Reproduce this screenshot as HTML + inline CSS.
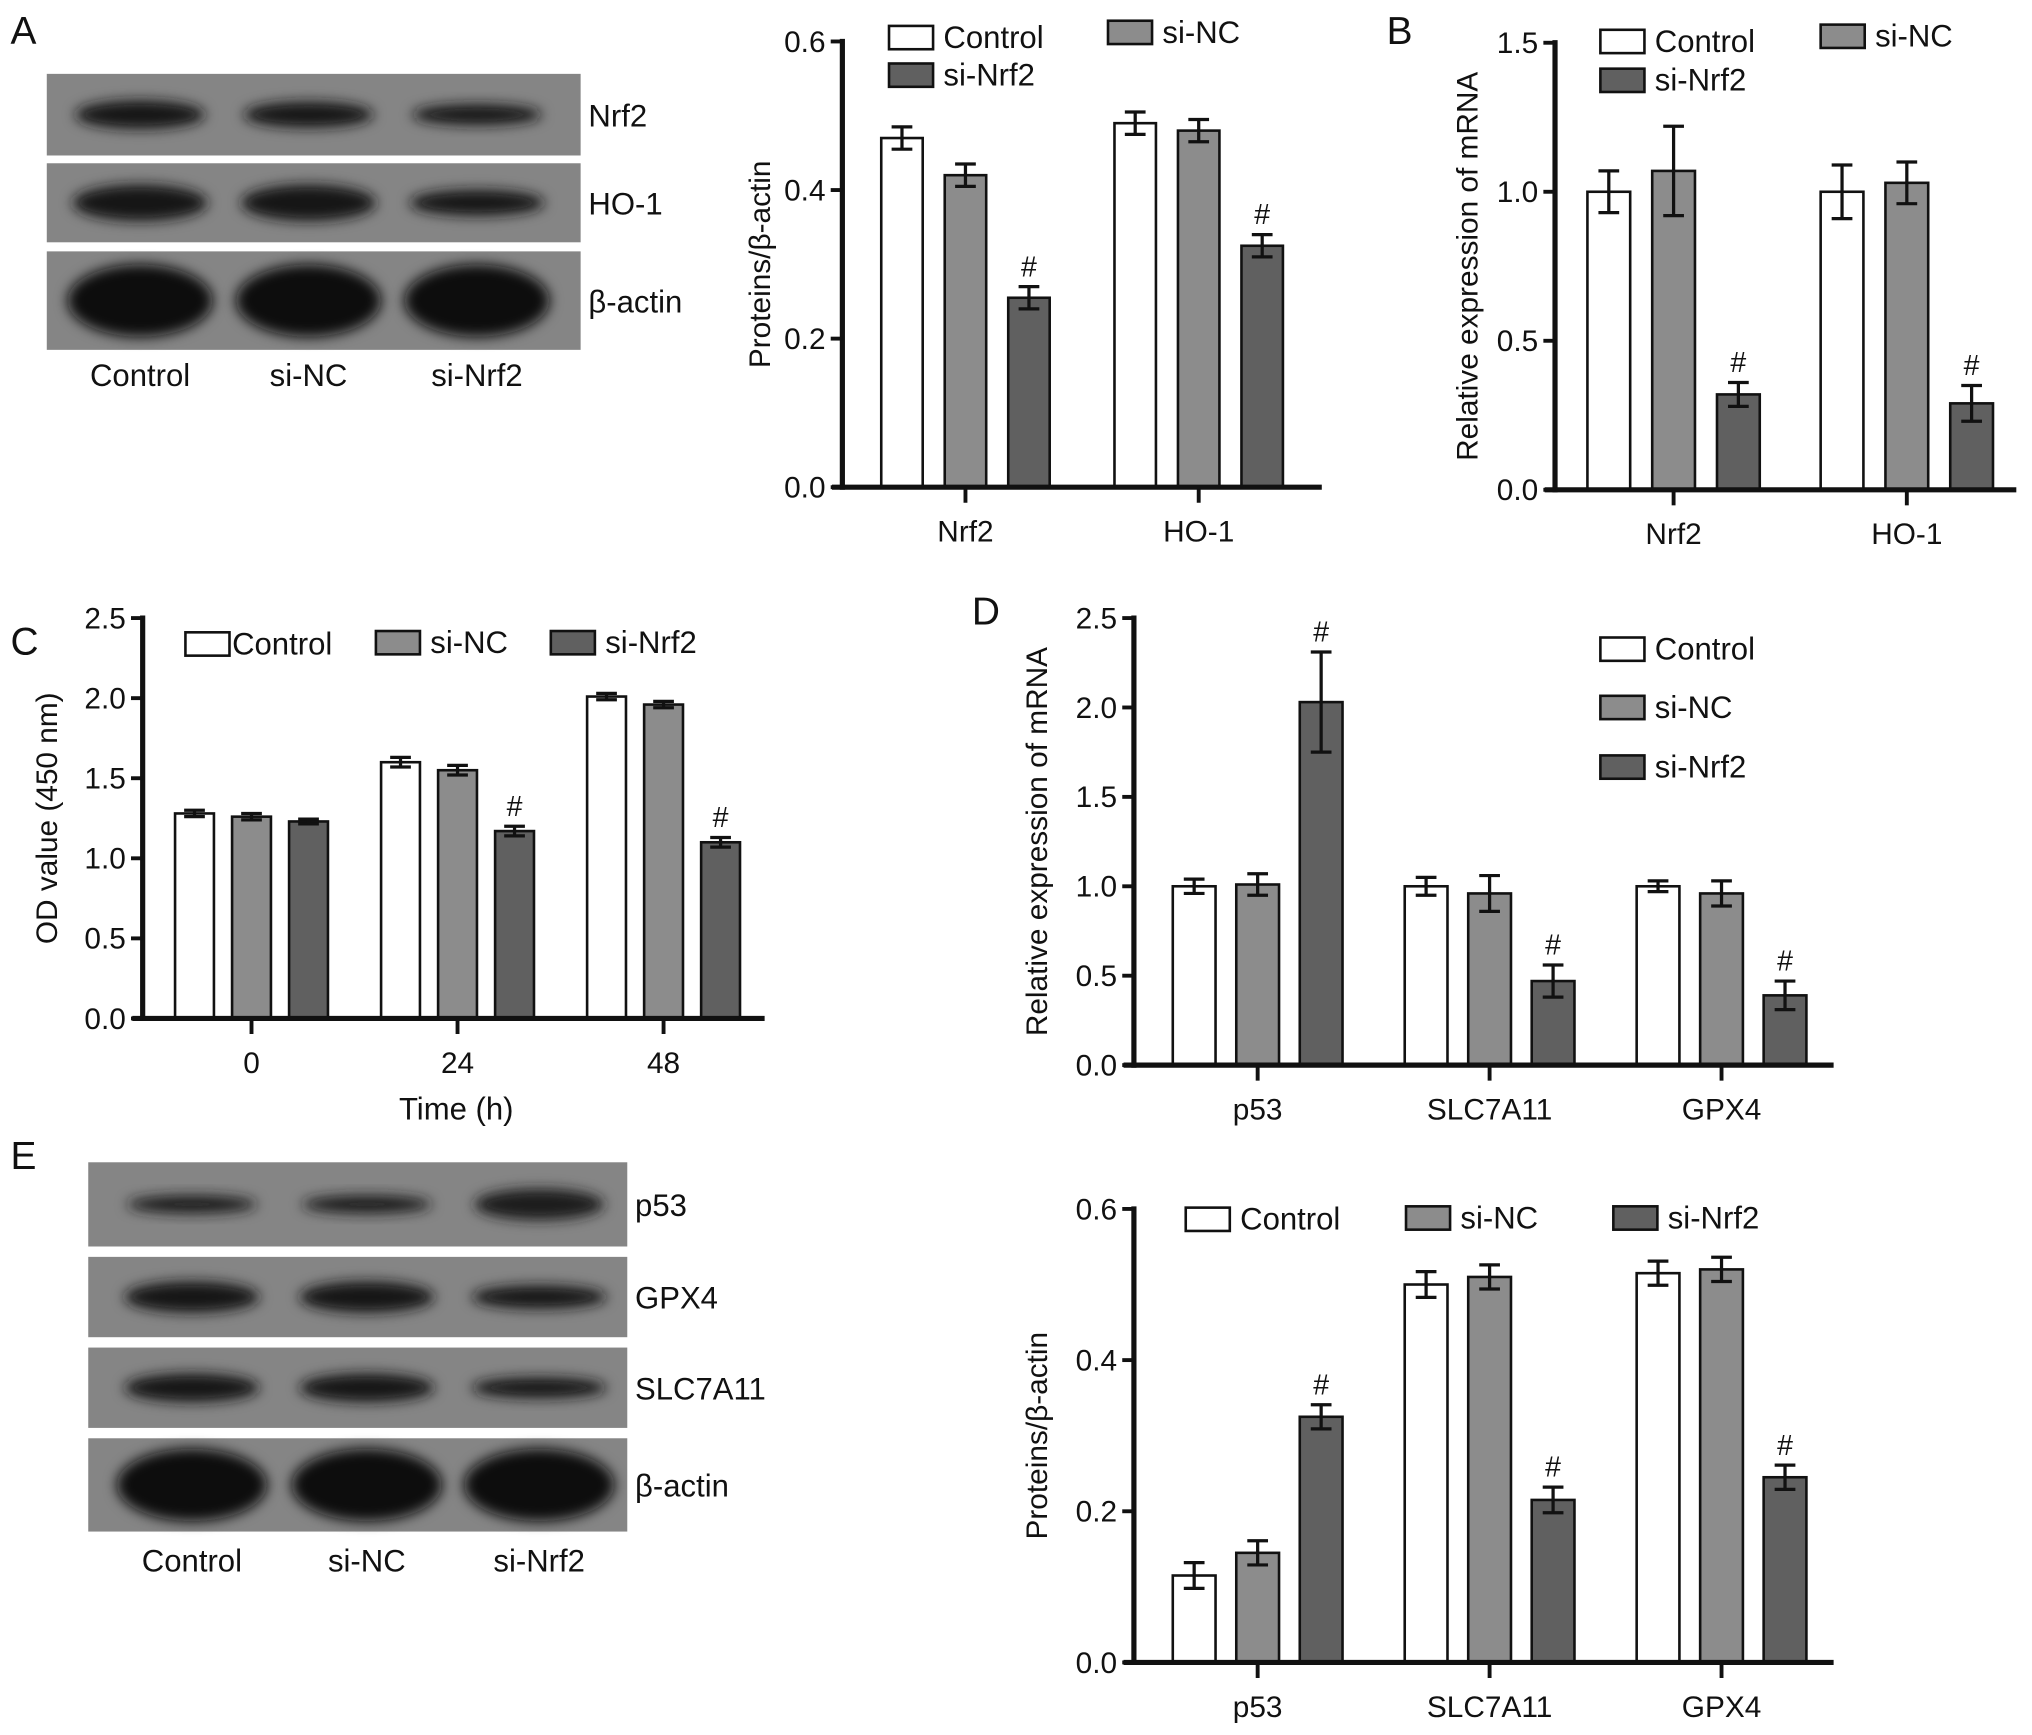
<!DOCTYPE html>
<html><head><meta charset="utf-8"><style>
html,body{margin:0;padding:0;background:#fff;}
svg{display:block;}
text{font-family:"Liberation Sans Narrow","Liberation Sans",sans-serif;fill:#111;}
</style></head><body>
<svg id="fig" width="2032" height="1735" viewBox="0 0 1568 1339">
<defs>
<filter id="blur" x="-30%" y="-60%" width="160%" height="220%"><feGaussianBlur stdDeviation="5"/></filter>
</defs>
<g id="blots"></g>
<g id="charts"></g>
</svg>
<script>
// ---------- data ----------
const groupNames = ["Control","si-NC","si-Nrf2"];
const catA = ["Nrf2","HO-1"];
const valA = [[0.47,0.42,0.255],[0.49,0.48,0.325]];
const errA = [[0.015,0.015,0.015],[0.015,0.015,0.015]];
const sigA = [[0,0,1],[0,0,1]];
const ticksA = [0.0,0.2,0.4,0.6];

const catB = ["Nrf2","HO-1"];
const valB = [[1.0,1.07,0.32],[1.0,1.03,0.29]];
const errB = [[0.07,0.15,0.04],[0.09,0.07,0.06]];
const sigB = [[0,0,1],[0,0,1]];
const ticksB = [0.0,0.5,1.0,1.5];

const catC = ["0","24","48"];
const valC = [[1.28,1.26,1.23],[1.60,1.55,1.17],[2.01,1.96,1.10]];
const errC = [[0.02,0.02,0.015],[0.03,0.03,0.03],[0.02,0.02,0.03]];
const sigC = [[0,0,0],[0,0,1],[0,0,1]];
const ticksC = [0.0,0.5,1.0,1.5,2.0,2.5];

const catD = ["p53","SLC7A11","GPX4"];
const valD = [[1.0,1.01,2.03],[1.0,0.96,0.47],[1.0,0.96,0.39]];
const errD = [[0.04,0.06,0.28],[0.05,0.1,0.09],[0.03,0.07,0.08]];
const sigD = [[0,0,1],[0,0,1],[0,0,1]];
const ticksD = [0.0,0.5,1.0,1.5,2.0,2.5];

const catE = ["p53","SLC7A11","GPX4"];
const valE = [[0.115,0.145,0.325],[0.50,0.51,0.215],[0.515,0.52,0.245]];
const errE = [[0.017,0.016,0.016],[0.017,0.016,0.017],[0.016,0.016,0.016]];
const sigE = [[0,0,1],[0,0,1],[0,0,1]];
const ticksE = [0.0,0.2,0.4,0.6];

// ---------- helpers ----------
const NS="http://www.w3.org/2000/svg";
const fills=["#ffffff","#8c8c8c","#606060"];
function mk(tag,attrs,parent,txt){const e=document.createElementNS(NS,tag);for(const k in attrs)e.setAttribute(k,attrs[k]);if(txt!==undefined)e.textContent=txt;parent.appendChild(e);return e;}

function chart(id,o){
  const g=mk("g",{},document.getElementById("charts"));
  
  
  const y=v=>o.y0-(v/o.max)*(o.y0-o.yTop);
  o.cats.forEach((c,ci)=>{
    const gx=o.x0+o.first+ci*o.gStep;
    o.vals[ci].forEach((v,si)=>{
      const bx=gx+si*o.bStep;
      const r=mk("rect",{x:bx,y:y(v),width:o.bw,height:o.y0-y(v),fill:fills[si],stroke:"#111","stroke-width":2},g);
      
      
      const cx=bx+o.bw/2, e=o.errs[ci][si];
      const eb=mk("path",{d:`M${cx},${y(v+e)}V${y(v-e)}M${cx-8},${y(v+e)}H${cx+8}M${cx-8},${y(v-e)}H${cx+8}`,stroke:"#111","stroke-width":2.5,fill:"none"},g);
      
      
      if(o.sig[ci][si]){
        const s=mk("text",{x:cx,y:y(v+e)-8,"text-anchor":"middle","font-size":22},g,"#");
        
        
      }
    });
    const tx=gx+o.bStep+o.bw/2;
    mk("line",{x1:tx,y1:o.y0,x2:tx,y2:o.y0+12,stroke:"#111","stroke-width":3},g);
    const t=mk("text",{x:tx,y:o.y0+42,"text-anchor":"middle","font-size":23},g,c);
    
    
  });
  const ya=mk("line",{x1:o.x0,y1:o.yTop-2,x2:o.x0,y2:o.y0+2,stroke:"#111","stroke-width":4},g);
  
  
  const xa=mk("line",{x1:o.x0-8,y1:o.y0,x2:o.xEnd,y2:o.y0,stroke:"#111","stroke-width":4},g);
  
  
  o.ticks.forEach(t=>{
    mk("line",{x1:o.x0-9,y1:y(t),x2:o.x0,y2:y(t),stroke:"#111","stroke-width":3},g);
    const tl=mk("text",{x:o.x0-13,y:y(t)+8,"text-anchor":"end","font-size":23},g,t.toFixed(1));
    
    
  });
  const yl=mk("text",{x:o.ylx,y:(o.y0+o.yTop)/2,"text-anchor":"middle","font-size":23,transform:`rotate(-90 ${o.ylx} ${(o.y0+o.yTop)/2})`,style:"font-family:'Liberation Sans',sans-serif"},g,o.ylabel);
  
  
  o.legend.forEach((p,i)=>{
    const r=mk("rect",{x:p[0],y:p[1],width:34,height:18,fill:fills[i],stroke:"#111","stroke-width":2},g);
    
    
    const t=mk("text",{x:p[0]+(p[2]||42),y:p[1]+17,"font-size":24},g,groupNames[i]);
    
    
  });
  if(o.xtitle){
    const xt=mk("text",{x:o.xtitle[0],y:o.xtitle[1],"text-anchor":"middle","font-size":24},g,o.xtitle[2]);
    
    
  }
}

chart("chart-a-western-quant",{cats:catA,vals:valA,errs:errA,sig:sigA,ticks:ticksA,max:0.6,x0:650,y0:376,yTop:32,xEnd:1020,first:30,gStep:180,bStep:49,bw:32,ylx:594,ylabel:"Proteins/β-actin",legend:[[686,20],[855,16],[686,49]]});
chart("chart-b-mrna",{cats:catB,vals:valB,errs:errB,sig:sigB,ticks:ticksB,max:1.5,x0:1200,y0:378,yTop:33,xEnd:1556,first:25,gStep:180,bStep:50,bw:33,ylx:1140,ylabel:"Relative expression of mRNA",legend:[[1235,23],[1405,19],[1235,53]]});
chart("chart-c-od",{cats:catC,vals:valC,errs:errC,sig:sigC,ticks:ticksC,max:2.5,x0:110,y0:786,yTop:477,xEnd:590,first:25,gStep:159,bStep:44,bw:30,ylx:44,ylabel:"OD value (450 nm)",legend:[[143,488,36],[290,487],[425,487]],xtitle:[352,864,"Time (h)"]});
chart("chart-d-mrna",{cats:catD,vals:valD,errs:errD,sig:sigD,ticks:ticksD,max:2.5,x0:875,y0:822,yTop:477,xEnd:1415,first:30,gStep:179,bStep:49,bw:33,ylx:808,ylabel:"Relative expression of mRNA",legend:[[1235,492],[1235,537],[1235,583]]});
chart("chart-e-western-quant",{cats:catE,vals:valE,errs:errE,sig:sigE,ticks:ticksE,max:0.6,x0:875,y0:1283,yTop:933,xEnd:1415,first:30,gStep:179,bStep:49,bw:33,ylx:808,ylabel:"Proteins/β-actin",legend:[[915,932],[1085,931],[1245,931]]});

// ---------- blots ----------
const blotG=document.getElementById("blots");
function blot(name,x,y,w,h,label,lanes,bandH,dark,rx){
  const g=mk("g",{},blotG);
  
  
  mk("rect",{x:x,y:y,width:w,height:h,fill:"#858585"},g);
  lanes.forEach((lx,i)=>{
    mk("ellipse",{cx:lx,cy:y+h/2,rx:rx,ry:bandH[i],fill:dark,filter:"url(#blur)"},g);
  });
  const t=mk("text",{x:x+w+6,y:y+h/2+9,"font-size":24},g,label);
  
  
}
const lanesA=[108,238,368];
blot("blot-nrf2",36,57,412,63,"Nrf2",lanesA,[11,10,8],"#151515",50);
blot("blot-ho1",36,126,412,61,"HO-1",lanesA,[14,14,10],"#151515",52);
blot("blot-actin-a",36,194,412,76,"β-actin",lanesA,[28,28,28],"#080808",56);
const lanesE=[148,283,416];
blot("blot-p53",68,897,416,65,"p53",lanesE,[7,7,12],"#1a1a1a",50);
blot("blot-gpx4",68,970,416,62,"GPX4",lanesE,[12,12,9],"#151515",52);
blot("blot-slc7a11",68,1040,416,62,"SLC7A11",lanesE,[11,11,8],"#151515",52);
blot("blot-actin-e",68,1110,416,72,"β-actin",lanesE,[28,28,28],"#080808",58);
function laneLabels(xs,y){xs.forEach((x,i)=>{const t=mk("text",{x:x,y:y,"text-anchor":"middle","font-size":24},blotG,groupNames[i]);});}
laneLabels(lanesA,298);
laneLabels(lanesE,1213);
[["A",8,34],["B",1070,34],["C",8,505],["D",750,482],["E",8,902]].forEach(p=>{
  const t=mk("text",{x:p[1],y:p[2],"font-size":30},blotG,p[0]);
  
  
});
</script>
</body></html>
